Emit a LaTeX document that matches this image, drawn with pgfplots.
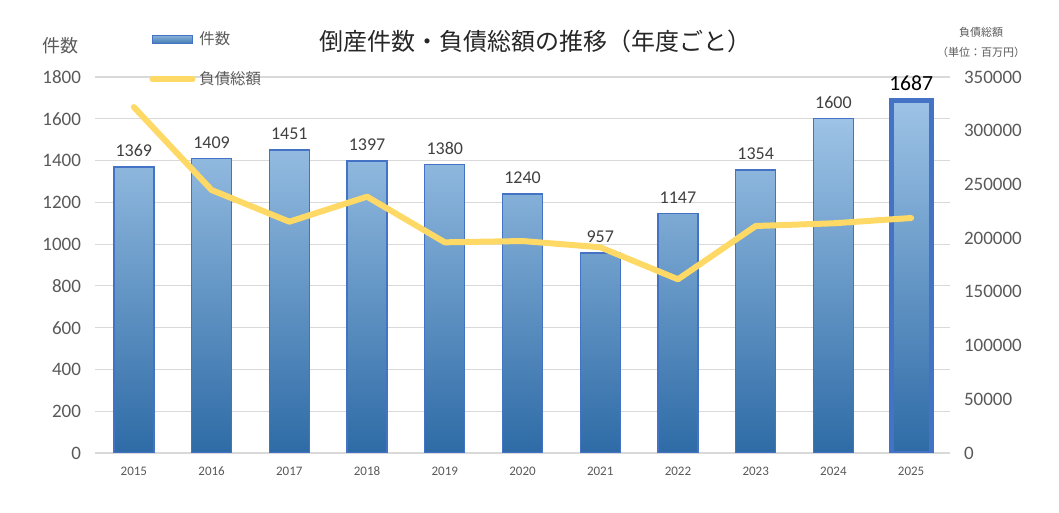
\documentclass[border=0pt]{standalone}
\usepackage{fontspec}
\setmainfont{Carlito}
\newfontfamily\jp{Noto Sans CJK JP}
\usepackage{pgfplots}
\pgfplotsset{compat=1.18}
\usepackage{pgfplotstable}

\definecolor{barTop}{HTML}{9DC3E6}
\definecolor{barBot}{HTML}{2E6BA6}
\definecolor{barEdge}{HTML}{4472C4}
\definecolor{debtLine}{HTML}{FFD966}
\definecolor{txtGray}{HTML}{595959}
\definecolor{lblGray}{HTML}{404040}
\definecolor{gridGray}{HTML}{D9D9D9}

% x position, fiscal year, number of bankruptcies, total debt (million yen)
\pgfplotstableread{
x year count debt
0 2015 1369 322000
1 2016 1409 244800
2 2017 1451 215300
3 2018 1397 238600
4 2019 1380 196100
5 2020 1240 197300
6 2021 957 191500
7 2022 1147 161700
8 2023 1354 211300
9 2024 1600 213800
10 2025 1687 218750
}\fulldata

\pgfplotstableread{
x count
0 1369
1 1409
2 1451
3 1397
4 1380
5 1240
6 957
7 1147
8 1354
9 1600
}\countdata

\pgfplotstableread{
x count
10 1687
}\latestdata

\pgfplotsset{
  common/.style={
    at={(47.5pt,30pt)}, anchor=south west,
    scale only axis, width=427.5pt, height=188pt,
    xmin=-0.5, xmax=10.5,
    axis line style={draw=none},
    tick style={draw=none},
    tick label style={text=txtGray},
    /pgf/number format/.cd, fixed, 1000 sep={}, assume math mode=true,
  },
  barlegend/.style={
    legend image code/.code={\draw[#1] (0pt,-2pt) rectangle (20pt,2pt);}
  },
  linelegend/.style={
    legend image code/.code={\draw[#1] (0pt,0pt) -- (20pt,0pt);}
  },
}

\begin{document}
\begin{tikzpicture}[x=1pt,y=1pt]
\useasboundingbox (0,0) rectangle (529.5,256.5);

\begin{axis}[
  common,
  ymin=0, ymax=1800,
  ytick={0,200,...,1800},
  ymajorgrids, major grid style={gridGray, line width=0.6pt},
  xtick={0,...,10},
  xticklabels={2015,2016,2017,2018,2019,2020,2021,2022,2023,2024,2025},
  xticklabel style={font=\fontsize{6.5}{7}\selectfont, yshift=-3.5pt},
  yticklabel style={font=\fontsize{9.5}{11}\selectfont, xshift=-3.5pt},
  title={\jp 倒産件数・負債総額の推移（年度ごと）},
  title style={at={(0.515,1)}, anchor=south, yshift=2.5pt,
    font=\fontsize{12}{14}\selectfont, text=black!85},
]
\addplot[ybar, bar width=20pt, bar shift=0pt, draw=barEdge, line width=0.7pt,
  top color=barTop, bottom color=barBot,
  nodes near coords,
  nodes near coords style={font=\fontsize{9}{10}\selectfont, text=lblGray, yshift=1.5pt}]
  table[x=x, y=count] {\countdata};
\addplot[ybar, bar width=20pt, bar shift=0pt, draw=barEdge, line width=2.4pt,
  top color=barTop, bottom color=barBot,
  nodes near coords,
  nodes near coords style={font=\fontsize{10.8}{12}\selectfont, text=black, yshift=0.5pt}]
  table[x=x, y=count] {\latestdata};
\end{axis}

\begin{axis}[
  common,
  ymin=0, ymax=350000,
  ytick={0,50000,...,350000},
  axis x line=none,
  axis y line*=right,
  scaled y ticks=false,
  yticklabel style={font=\fontsize{9.5}{11}\selectfont, xshift=3.5pt},
  legend style={at={(0.0632,1.133)}, anchor=north west, draw=none, fill=none,
    inner sep=0pt, row sep=8pt, font=\fontsize{7.7}{9}\selectfont\jp,
    text=txtGray, cells={anchor=west}},
]
\addlegendimage{barlegend, draw=barEdge, line width=0.5pt,
  top color=barTop!80!barBot, bottom color=barBot!80!barTop}
\addlegendentry{件数}
\addplot[linelegend, debtLine, line width=3pt, line cap=round, line join=round]
  table[x=x, y=debt] {\fulldata};
\addlegendentry{負債総額}
\end{axis}

\node[font=\fontsize{9}{10}\selectfont\jp, text=txtGray] at (30,233.5) {件数};
\node[font=\fontsize{5.5}{6}\selectfont\jp, text=txtGray] at (490.5,240.5) {負債総額};
\node[font=\fontsize{5.5}{6}\selectfont\jp, text=txtGray] at (490.5,230.5) {（単位：百万円）};
\end{tikzpicture}
\end{document}
